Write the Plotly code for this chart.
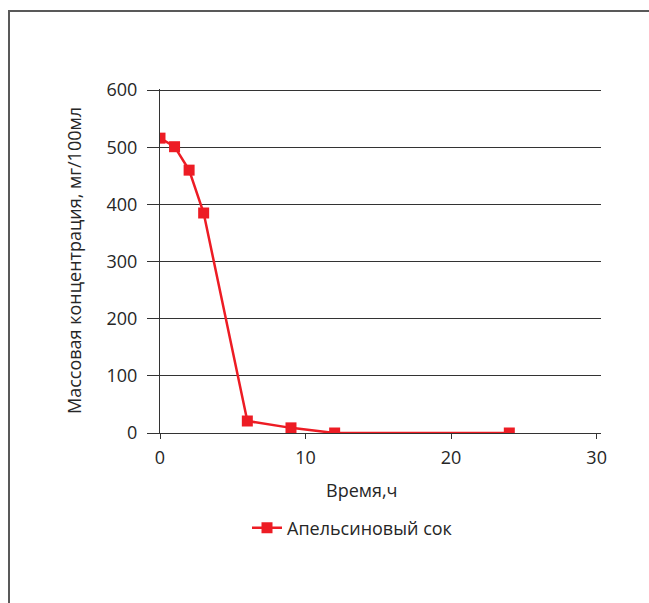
import plotly.graph_objects as go

time_h = [0, 1, 2, 3, 6, 9, 12, 24]
conc = [516, 501, 460, 385, 21, 9, 0, 0]
series_name = "Апельсиновый сок"
x_ticks = [0, 10, 20, 30]
y_ticks = [0, 100, 200, 300, 400, 500, 600]

W, H = 649, 603
L, R, T, B = 160, 48, 89, 170
pw, ph = W - L - R, H - T - B

def px(x):
    return (x - L) / pw

def py(y):
    return (H - B - y) / ph

FONT = "Open Sans"
FS = 18
TXT = "#262626"
AX = "#333333"
RED = "#ED1C24"

fig = go.Figure()
fig.add_trace(go.Scatter(
    x=time_h, y=conc, mode="lines+markers", name=series_name,
    line=dict(color=RED, width=2.5),
    marker=dict(symbol="square", size=11, color=RED),
))

fig.update_layout(
    width=W, height=H,
    margin=dict(l=L, r=R, t=T, b=B, pad=0),
    paper_bgcolor="white", plot_bgcolor="white",
    font=dict(family=FONT, size=FS, color=TXT),
    showlegend=True,
    legend=dict(x=px(247), y=py(528), xanchor="left", yanchor="middle",
                orientation="h", font=dict(size=FS, color=TXT),
                bgcolor="rgba(0,0,0,0)"),
    xaxis=dict(range=[0, 30.3], tickvals=x_ticks, ticks="outside", ticklen=5,
               tickcolor=AX, showline=True, linecolor=AX, linewidth=1,
               showgrid=False, zeroline=False, fixedrange=True,
               ticklabelstandoff=3,
               tickfont=dict(size=FS, color=TXT)),
    yaxis=dict(range=[0, 602], tickvals=y_ticks, ticks="outside", ticklen=12,
               tickcolor=AX, showline=True, linecolor=AX, linewidth=1,
               showgrid=True, gridcolor=AX, gridwidth=1, zeroline=False,
               fixedrange=True, ticklabelstandoff=6,
               tickfont=dict(size=FS, color=TXT)),
    annotations=[
        dict(text="Время,ч", x=px(362), y=py(490), xref="paper", yref="paper",
             showarrow=False, xanchor="center", yanchor="middle",
             font=dict(size=FS, color=TXT)),
        dict(text="Массовая концентрация, мг/100мл", x=px(74), y=py(261),
             xref="paper", yref="paper", showarrow=False, textangle=-90,
             xanchor="center", yanchor="middle", font=dict(size=FS, color=TXT)),
    ],
    shapes=[
        dict(type="rect", xref="paper", yref="paper",
             x0=px(9), x1=px(700), y0=py(700), y1=py(11),
             line=dict(color="#595959", width=2), fillcolor="rgba(0,0,0,0)",
             layer="below"),
    ],
)

fig.write_html("out.html")
